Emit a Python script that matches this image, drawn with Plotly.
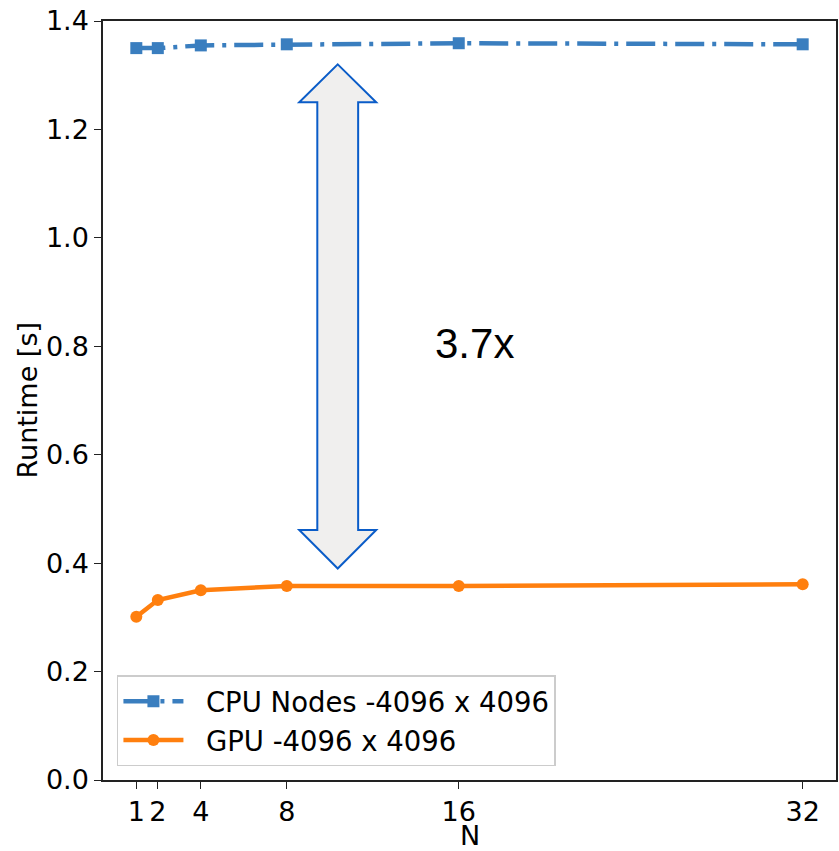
import plotly.graph_objects as go

# Data
n_values = [1, 2, 4, 8, 16, 32]
cpu_runtime = [1.350, 1.350, 1.355, 1.357, 1.359, 1.357]
gpu_runtime = [0.301, 0.332, 0.350, 0.358, 0.358, 0.361]
x_ticks = [1, 2, 4, 8, 16, 32]
y_ticks = [0.0, 0.2, 0.4, 0.6, 0.8, 1.0, 1.2, 1.4]
cpu_label = "CPU Nodes -4096 x 4096"
gpu_label = "GPU -4096 x 4096"
speedup_label = "3.7x"
x_title = "N"
y_title = "Runtime [s]"

# Annotation arrow (data coords)
arrow_x = 10.37
arrow_top = 1.32
arrow_bottom = 0.39
head_base_top = 1.25
head_base_bottom = 0.461
head_half = 1.79
shaft_half = 0.95

FONT = "DejaVu Sans"
PAD = "\u00a0\u00a0"

fig = go.Figure()
fig.add_trace(go.Scatter(
    x=n_values, y=cpu_runtime, name=PAD + cpu_label, mode="lines+markers",
    line=dict(color="#3a7ebf", width=4.5, dash="29px,8px,4px,8px"),
    marker=dict(symbol="square", size=12, color="#3a7ebf"),
))
fig.add_trace(go.Scatter(
    x=n_values, y=gpu_runtime, name=PAD + gpu_label, mode="lines+markers",
    line=dict(color="#ff7f0e", width=4.5),
    marker=dict(symbol="circle", size=12, color="#ff7f0e"),
))

pts = [
    (arrow_x, arrow_top),
    (arrow_x + head_half, head_base_top),
    (arrow_x + shaft_half, head_base_top),
    (arrow_x + shaft_half, head_base_bottom),
    (arrow_x + head_half, head_base_bottom),
    (arrow_x, arrow_bottom),
    (arrow_x - head_half, head_base_bottom),
    (arrow_x - shaft_half, head_base_bottom),
    (arrow_x - shaft_half, head_base_top),
    (arrow_x - head_half, head_base_top),
]
path = "M " + " L ".join(f"{x},{y}" for x, y in pts) + " Z"
fig.add_shape(type="path", path=path, xref="x", yref="y",
              fillcolor="#f0efee", line=dict(color="#0a5cc8", width=2), layer="above")

fig.add_annotation(x=16.75, y=0.805, xref="x", yref="y", text=speedup_label,
                   showarrow=False, font=dict(family="Liberation Sans, Arial", size=42, color="black"))

# Axis titles
fig.add_annotation(x=0.5, y=0, xref="paper", yref="paper", text=x_title, showarrow=False,
                   yanchor="middle", yshift=-55, font=dict(family=FONT, size=27, color="black"))
fig.add_annotation(x=0, y=0.5, xref="paper", yref="paper", text=y_title, showarrow=False,
                   textangle=-90, xanchor="center", xshift=-76,
                   font=dict(family=FONT, size=27, color="black"))

axis_common = dict(
    showgrid=False, zeroline=False, showline=True, linecolor="#222", linewidth=1.5,
    mirror=True, ticks="outside", ticklen=7, tickwidth=1.2, tickcolor="#222",
    tickfont=dict(family=FONT, size=27, color="black"), automargin=False,
)
fig.update_xaxes(range=[-0.55, 33.55], tickvals=x_ticks, ticktext=[str(v) for v in x_ticks],
                 **axis_common)
fig.update_yaxes(range=[0, 1.4], tickvals=y_ticks, ticktext=[f"{v:.1f}" for v in y_ticks],
                 **axis_common)

fig.update_layout(
    width=839, height=851,
    margin=dict(l=103, r=3, t=21, b=71),
    plot_bgcolor="white", paper_bgcolor="white",
    legend=dict(x=0.019, y=0.018, xanchor="left", yanchor="bottom",
                bgcolor="rgba(255,255,255,0.85)", bordercolor="#cccccc", borderwidth=1.5,
                font=dict(family=FONT, size=27.5, color="black"), itemwidth=60,
                tracegroupgap=0),
    showlegend=True,
)

fig.write_html("out.html", config={"displayModeBar": False},
               post_script="document.body.style.margin='0';document.body.style.overflow='hidden';")
